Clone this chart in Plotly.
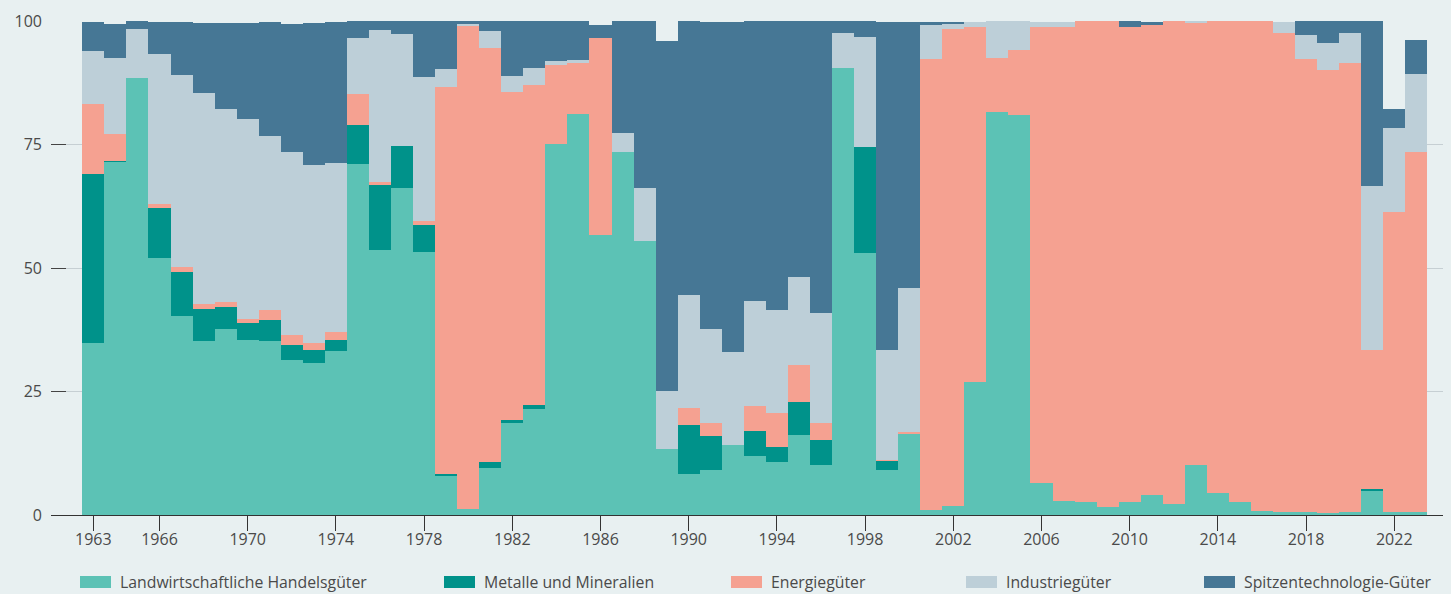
import plotly.graph_objects as go

years = list(range(1963, 2024))

landwirtschaft = [34.8, 71.5, 88.5, 52.0, 40.3, 35.2, 37.7, 35.4, 35.3, 31.4,
                  30.8, 33.1, 71.1, 53.7, 66.1, 53.2, 7.9, 1.3, 9.6, 18.8,
                  21.5, 75.1, 81.2, 56.6, 73.4, 55.5, 13.3, 8.2, 9.1, 14.2,
                  12.0, 10.7, 16.2, 10.2, 90.5, 53.0, 9.2, 16.5, 1.1, 1.8,
                  27.0, 81.6, 81.0, 6.5, 2.8, 2.7, 1.7, 2.6, 4.0, 2.3,
                  10.1, 4.5, 2.7, 0.8, 0.7, 0.7, 0.5, 0.7, 4.9, 0.7, 0.7]
metalle = [34.2, 0.2, 0.0, 10.1, 8.9, 6.6, 4.5, 3.5, 4.2, 3.1,
           2.7, 2.4, 7.8, 13.2, 8.6, 5.6, 0.5, 0.0, 1.2, 0.4,
           0.8, 0.0, 0.0, 0.0, 0.0, 0.0, 0.0, 10.0, 6.9, 0.0,
           5.0, 3.1, 6.7, 4.9, 0.0, 21.5, 1.8, 0.0, 0.0, 0.0,
           0.0, 0.0, 0.0, 0.0, 0.0, 0.0, 0.0, 0.0, 0.0, 0.0,
           0.0, 0.0, 0.0, 0.0, 0.0, 0.0, 0.0, 0.0, 0.4, 0.0, 0.0]
energie = [14.2, 5.5, 0.0, 0.9, 1.1, 1.0, 0.9, 0.8, 2.1, 1.9,
           1.3, 1.6, 6.3, 0.5, 0.0, 0.7, 78.2, 97.6, 83.8, 66.5,
           64.7, 16.0, 10.2, 39.9, 0.0, 0.0, 0.0, 3.5, 2.6, 0.0,
           5.1, 6.9, 7.5, 3.5, 0.0, 0.0, 0.2, 0.4, 91.3, 96.6,
           71.8, 11.0, 13.1, 92.3, 95.9, 97.2, 98.2, 96.2, 95.1, 97.6,
           89.6, 95.4, 97.2, 99.1, 96.9, 91.6, 89.6, 90.8, 28.2, 60.7, 72.8]
industrie = [10.7, 15.4, 9.9, 30.3, 38.7, 42.6, 39.1, 40.5, 35.1, 37.1,
             36.0, 34.1, 11.4, 30.8, 22.7, 29.1, 3.7, 0.5, 3.3, 3.2,
             3.4, 0.8, 0.7, 0.0, 3.9, 10.7, 11.9, 22.8, 19.1, 18.7,
             21.2, 20.7, 17.7, 22.2, 7.1, 22.3, 22.3, 29.1, 6.9, 1.0,
             0.9, 7.3, 5.8, 0.9, 1.0, 0.0, 0.0, 0.0, 0.0, 0.0,
             0.2, 0.0, 0.0, 0.0, 2.1, 4.9, 5.5, 6.1, 33.0, 17.0, 15.7]
spitzentech = [5.8, 6.8, 1.5, 6.4, 10.7, 14.1, 17.3, 19.3, 23.0, 25.8,
               28.7, 28.5, 3.3, 1.7, 2.5, 11.3, 9.6, 0.5, 2.0, 11.0,
               9.5, 8.0, 7.8, 2.7, 22.6, 33.7, 70.8, 55.4, 62.0, 66.8,
               56.6, 58.5, 51.8, 59.1, 2.3, 3.1, 66.2, 53.7, 0.4, 0.3,
               0.0, 0.0, 0.0, 0.0, 0.0, 0.0, 0.0, 1.1, 0.6, 0.0,
               0.0, 0.0, 0.0, 0.0, 0.0, 2.7, 4.3, 2.3, 33.4, 3.8, 7.0]

series_names = ["Landwirtschaftliche Handelsgüter", "Metalle und Mineralien",
                "Energiegüter", "Industriegüter", "Spitzentechnologie-Güter"]
series_values = [landwirtschaft, metalle, energie, industrie, spitzentech]
colors = ["#5cc2b5", "#00928a", "#f5a191", "#bdcfd8", "#467795"]

x_tickvals = [1963, 1966, 1970, 1974, 1978, 1982, 1986, 1990, 1994, 1998,
              2002, 2006, 2010, 2014, 2018, 2022]
y_tickvals = [0, 25, 50, 75, 100]

W, H = 1451, 594
ML, MR, MT, MB = 51, 8, 21, 79
PW, PH = W - ML - MR, H - MT - MB
BG = "#e8f0f1"
TXT = "#4a4a4a"
FONT = "Open Sans"


def px_x(p):
    return (p - ML) / PW


def px_y(p):
    return (H - MB - p) / PH


fig = go.Figure()
for name, vals, col in zip(series_names, series_values, colors):
    fig.add_trace(go.Bar(x=years, y=vals, name=name, marker_color=col,
                         marker_line_width=0, width=1, showlegend=False))

# manual legend (wide rectangle keys)
legend_rect_left = [80, 444, 731, 966, 1204]
shapes = []
annotations = []
for name, col, left in zip(series_names, colors, legend_rect_left):
    shapes.append(dict(type="rect", xref="paper", yref="paper",
                       x0=px_x(left), x1=px_x(left + 31),
                       y0=px_y(588), y1=px_y(576),
                       fillcolor=col, line_width=0, layer="above"))
    annotations.append(dict(text=name, xref="paper", yref="paper",
                            x=px_x(left + 38), y=px_y(582),
                            xanchor="left", yanchor="middle", showarrow=False,
                            font=dict(family=FONT, size=15.8, color=TXT)))

fig.update_layout(
    width=W, height=H,
    margin=dict(l=ML, r=MR, t=MT, b=MB),
    paper_bgcolor=BG, plot_bgcolor=BG,
    barmode="stack", bargap=0,
    font=dict(family=FONT, size=16, color=TXT),
    shapes=shapes, annotations=annotations,
    showlegend=False,
)
fig.update_xaxes(range=[1961.08, 2024.21], tickmode="array", tickvals=x_tickvals,
                 ticktext=[str(v) for v in x_tickvals],
                 ticks="outside", ticklen=15, tickcolor="#333333", tickwidth=1,
                 showline=True, linecolor="#333333", linewidth=1,
                 showgrid=False, zeroline=False, ticklabelstandoff=-5,
                 tickfont=dict(family=FONT, size=16, color=TXT))
fig.update_yaxes(range=[0, 100], tickmode="array", tickvals=y_tickvals,
                 ticks="inside", ticklen=15, tickcolor="#444444", tickwidth=1,
                 showline=False, showgrid=True, gridcolor="#c6cfd3", gridwidth=1,
                 zeroline=False, ticklabelstandoff=8,
                 tickfont=dict(family=FONT, size=16, color=TXT))

fig.write_html("out.html", config={"displayModeBar": False},
               post_script="document.body.style.margin='0';document.body.style.overflow='hidden';")
